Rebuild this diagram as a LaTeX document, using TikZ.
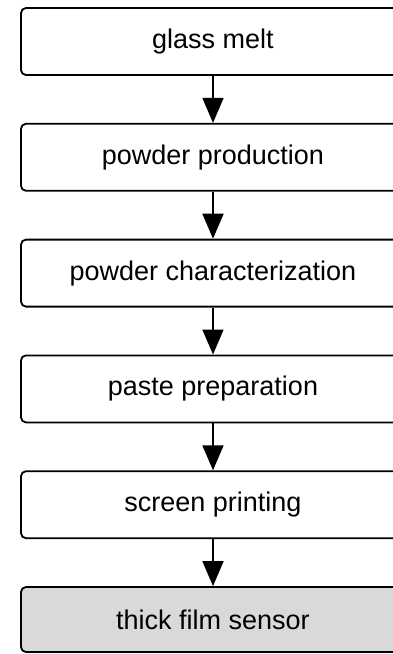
\documentclass[tikz,border=0pt]{standalone}
\usepackage{fontspec}
\setmainfont{Liberation Sans}
\usetikzlibrary{positioning,arrows.meta}

\begin{document}
\begin{tikzpicture}[x=1pt,y=1pt,
    stagebox/.style={draw,line width=1.8pt,rounded corners=5pt,
      minimum width=384pt,minimum height=67pt,inner sep=0pt,
      font=\fontsize{27}{32}\selectfont},
    result/.style={stagebox,minimum height=65pt,fill=black!15},
    flow/.style={line width=1.8pt,-{Triangle[width=21pt,length=25pt]}},
    node distance=47pt]
  \useasboundingbox (0,0) rectangle (392,-654);

  \node[stagebox] (melt) at (213,-41.5) {glass melt};
  \node[stagebox,below=of melt] (powder) {powder production};
  \node[stagebox,below=of powder] (charac) {powder characterization};
  \node[stagebox,below=of charac] (paste) {paste preparation};
  \node[stagebox,below=of paste] (print) {screen printing};
  \node[result,below=of print] (sensor) {thick film sensor};

  \draw[flow] (melt) -- (powder);
  \draw[flow] (powder) -- (charac);
  \draw[flow] (charac) -- (paste);
  \draw[flow] (paste) -- (print);
  \draw[flow] (print) -- (sensor);
\end{tikzpicture}
\end{document}
